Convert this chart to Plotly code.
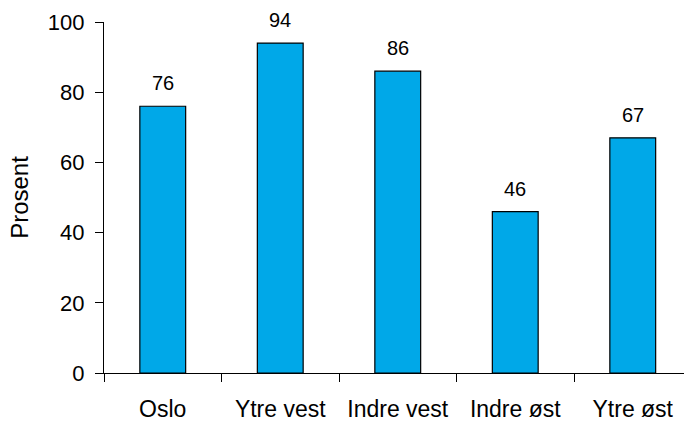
import plotly.graph_objects as go

categories = ["Oslo", "Ytre vest", "Indre vest", "Indre øst", "Ytre øst"]
values = [76, 94, 86, 46, 67]
y_ticks = [0, 20, 40, 60, 80, 100]

FONT = "Liberation Sans, Arial, sans-serif"
BAR_COLOR = "#00A8E8"

fig = go.Figure()
fig.add_trace(go.Bar(
    x=categories,
    y=values,
    marker=dict(color=BAR_COLOR, line=dict(color="black", width=1.2)),
    hoverinfo="skip",
))

for c, v in zip(categories, values):
    fig.add_annotation(
        x=c, y=v, text=str(v), showarrow=False,
        yanchor="bottom", yshift=10,
        font=dict(family=FONT, size=20, color="black"),
    )

fig.update_layout(
    width=684, height=421,
    margin=dict(l=104, r=0, t=22, b=48),
    paper_bgcolor="white", plot_bgcolor="white",
    bargap=0.61,
    showlegend=False,
    font=dict(family=FONT, size=22, color="black"),
)

fig.update_xaxes(
    type="category",
    range=[-0.5, -0.5 + 580 / 117.5],
    showline=True, linecolor="black", linewidth=1.2,
    ticks="outside", tickson="boundaries", ticklen=8, tickcolor="black", tickwidth=1.2,
    showgrid=False, zeroline=False,
    ticklabelstandoff=15,
    tickfont=dict(family=FONT, size=23, color="black"),
)

fig.update_yaxes(
    range=[0, 100],
    tickvals=y_ticks,
    showline=True, linecolor="black", linewidth=1.2,
    ticks="outside", ticklen=8, tickcolor="black", tickwidth=1.2,
    showgrid=False, zeroline=False,
    ticklabelstandoff=6,
    tickfont=dict(family=FONT, size=22, color="black"),
    title=dict(text="Prosent", font=dict(family=FONT, size=24, color="black"), standoff=12),
)

fig.write_html("out.html")
